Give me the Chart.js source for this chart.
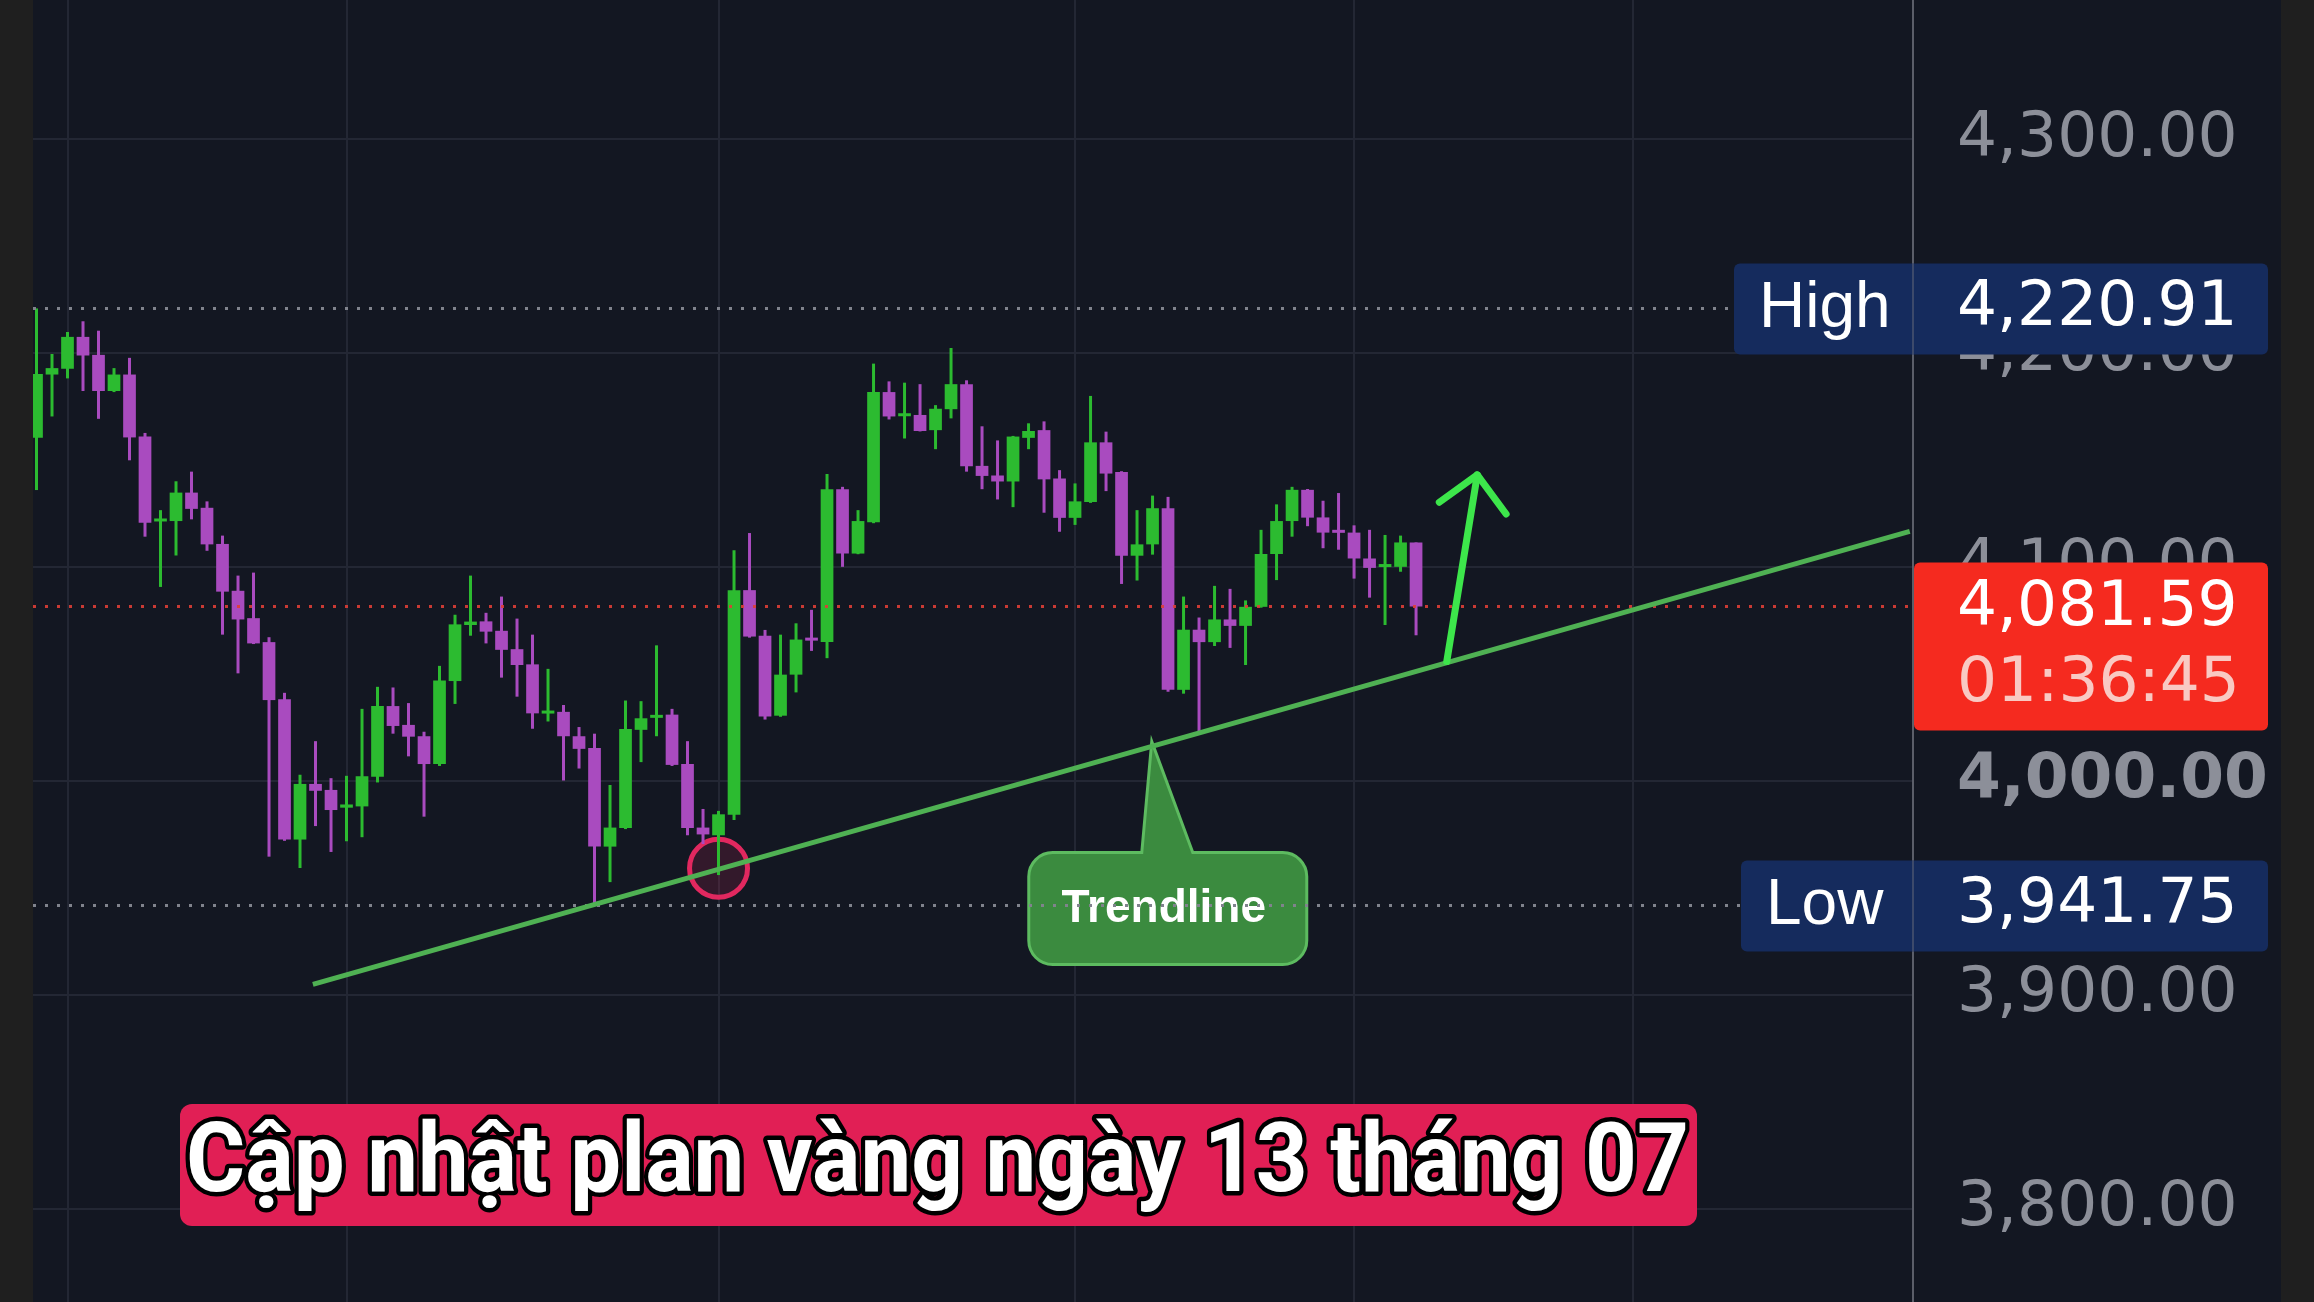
<!DOCTYPE html>
<html>
<head>
<meta charset="utf-8">
<title>Cập nhật plan vàng</title>
<script src="https://cdn.jsdelivr.net/npm/chart.js@4.4.1/dist/chart.umd.min.js"></script>
<style>
    html, body { margin: 0; padding: 0; background: #131722; overflow: hidden; }
    #wrap { width: 2314px; height: 1302px; position: relative; }
</style>
</head>
<body>
<div id="wrap"><canvas id="chart" width="2314" height="1302"></canvas></div>
<script>
// --- candle data, one entry per bar ---
const opens = [4160.4,4190.0,4192.7,4207.6,4199.2,4182.3,4190.0,4161.0,4121.3,4121.5,
    4134.8,4127.7,4110.8,4088.9,4076.1,4064.9,4038.2,3972.6,3998.6,3995.8,
    3987.5,3988.1,4002.0,4035.0,4026.2,4020.9,4007.9,4046.7,4072.9,4074.6,
    4070.2,4061.6,4054.5,4031.5,4032.3,4020.9,4015.4,3969.3,3978.0,4023.9,
    4029.5,4031.0,4007.9,3978.2,3974.6,3984.2,4089.2,4067.9,4030.5,4049.7,
    4066.4,4064.9,4136.4,4106.3,4120.9,4181.8,4170.5,4171.1,4164.0,4173.8,
    4185.5,4147.3,4142.8,4140.0,4160.4,4164.0,4141.4,4123.0,4130.4,4158.3,
    4144.4,4105.3,4110.6,4127.5,4042.6,4070.7,4064.9,4075.5,4072.5,4081.4,
    4106.1,4121.5,4136.1,4123.2,4117.0,4116.1,4104.0,4100.0,4100.1,4111.5];
const highs = [4220.91,4199.6,4209.9,4214.9,4210.5,4193.0,4197.8,4162.7,4126.6,4140.1,
    4144.6,4130.7,4114.7,4096.0,4097.4,4067.2,4041.2,4002.9,4018.6,4001.3,
    4002.4,4033.7,4044.0,4043.7,4036.4,4023.0,4053.8,4077.7,4096.0,4078.6,
    4086.2,4075.9,4068.4,4052.4,4035.5,4025.2,4022.1,3998.1,4037.6,4037.3,
    4063.4,4033.7,4018.6,3986.9,3986.0,4107.9,4115.9,4070.6,4068.4,4073.7,
    4080.0,4143.5,4137.5,4126.6,4195.1,4186.8,4186.2,4185.5,4175.7,4202.4,
    4187.3,4165.8,4159.2,4161.3,4167.2,4168.1,4145.3,4139.1,4180.0,4163.3,
    4144.8,4126.6,4133.4,4132.8,4086.2,4076.4,4091.2,4089.8,4084.4,4117.4,
    4129.3,4137.5,4136.5,4131.0,4134.6,4119.5,4117.4,4115.0,4114.7,4111.5];
const lows = [4136.0,4170.4,4188.2,4182.3,4169.3,4181.8,4149.9,4114.2,4090.7,4105.4,
    4122.3,4107.6,4068.4,4050.3,4064.0,3964.6,3972.0,3959.3,3978.9,3966.8,
    3971.8,3973.7,3999.3,4022.1,4011.5,3983.3,4007.0,4036.0,4067.9,4064.3,
    4048.3,4039.4,4024.4,4027.8,4000.2,4005.8,3941.75,3952.7,3977.5,4008.8,
    4020.9,4007.0,3974.6,3970.5,3956.0,3981.7,4067.0,4028.7,4030.0,4041.4,
    4060.8,4057.4,4100.1,4106.0,4120.5,4169.0,4160.1,4163.4,4155.1,4169.5,
    4144.6,4136.4,4131.6,4128.0,4155.1,4125.4,4116.5,4119.7,4130.0,4135.5,
    4092.1,4093.7,4105.8,4041.7,4040.8,4022.1,4063.1,4062.2,4054.2,4081.0,
    4093.9,4114.2,4119.1,4108.8,4108.1,4094.6,4085.7,4072.9,4097.8,4068.1];
const closes = [4190.3,4193.0,4207.6,4198.9,4182.3,4190.0,4160.6,4120.7,4122.7,4134.8,
    4127.2,4110.6,4088.5,4075.5,4064.3,4037.8,3972.6,3998.6,3995.4,3986.4,
    3989.0,4002.2,4035.0,4025.7,4020.7,4007.9,4047.0,4073.2,4074.5,4069.8,
    4061.3,4054.2,4031.6,4032.5,4020.9,4015.0,3969.3,3978.2,4024.3,4029.3,
    4030.5,4007.5,3978.0,3975.0,3984.4,4089.2,4067.5,4030.1,4049.7,4066.1,
    4065.6,4136.4,4106.3,4121.5,4181.8,4170.4,4171.5,4163.6,4174.0,4185.5,
    4147.1,4142.6,4140.0,4161.0,4163.6,4141.0,4123.0,4130.7,4158.3,4143.7,
    4105.3,4110.6,4127.5,4042.6,4070.7,4064.9,4075.5,4072.5,4081.4,4106.1,
    4121.5,4136.1,4123.1,4116.1,4116.0,4104.0,4099.6,4101.0,4111.5,4081.59];

// axis ticks / ranges
const yTicks = [3800, 3900, 4000, 4100, 4200, 4300];
const xGridIdx = [2, 20, 44, 67, 85, 103];   // vertical grid lines sit on these bars
const xRange = [-0.226, 121.06];
const yRange = [3756.4, 4365.1];

// price markers
const highValue = 4220.91;
const lowValue = 3941.75;
const lastPrice = 4081.59;
const countdown = '01:36:45';

// drawings (bar index, price)
const trendX = [17.83, 120.85];
const trendY = [3904.9, 4116.7];
const arrowShaftX = [90.98, 92.95];
const arrowShaftY = [4055.8, 4143.1];
const arrowHeadX = [90.50, 92.95, 94.81];
const arrowHeadY = [4130.3, 4143.1, 4124.8];
const touchPoint = [44, 3959.2];
const calloutAnchor = [71.95, 4018.4];
const calloutText = 'Trendline';
const titleText = 'Cập nhật plan vàng ngày 13 tháng 07';

const GREEN = '#2cbb30';
const PURPLE = '#a94bbf';
const GRID = '#232734';
const AXIS_TEXT = '#8c8f99';

const fmt = v => v.toLocaleString('en-US', { minimumFractionDigits: 2, maximumFractionDigits: 2 });
const toPts = (xs, ys) => xs.map((x, i) => ({ x: x, y: ys[i] }));

const bodyData = opens.map((o, i) => ({ x: i, y: [o, closes[i]] }));
const wickData = opens.map((o, i) => ({ x: i, y: [lows[i], highs[i]] }));
const barColors = opens.map((o, i) => closes[i] >= o ? GREEN : PURPLE);

function roundRect(ctx, x, y, w, h, r) {
    ctx.beginPath();
    ctx.moveTo(x + r, y);
    ctx.arcTo(x + w, y, x + w, y + h, r);
    ctx.arcTo(x + w, y + h, x, y + h, r);
    ctx.arcTo(x, y + h, x, y, r);
    ctx.arcTo(x, y, x + w, y, r);
    ctx.closePath();
}

// no label padding: the plot runs edge to edge vertically
function noPad(s) {
    s.paddingTop = 0;
    s.paddingBottom = 0;
    s.paddingLeft = 0;
    s.paddingRight = 0;
}

// background + side strips
const backdrop = {
    id: 'backdrop',
    beforeDraw(chart) {
        const ctx = chart.ctx;
        ctx.save();
        ctx.fillStyle = '#131722';
        ctx.fillRect(0, 0, chart.width, chart.height);
        ctx.fillStyle = '#1f1f1f';
        ctx.fillRect(0, 0, 33, chart.height);
        ctx.fillRect(2281, 0, chart.width - 2281, chart.height);
        ctx.restore();
    }
};

// "Trendline" callout, under the lines
const callout = {
    id: 'callout',
    beforeDatasetsDraw(chart) {
        const ctx = chart.ctx;
        const tx = chart.scales.x.getPixelForValue(calloutAnchor[0]);
        const ty = chart.scales.y.getPixelForValue(calloutAnchor[1]);
        const L = tx - 123, T = ty + 111, R = L + 278, B = T + 112, r = 24;
        ctx.save();
        ctx.beginPath();
        ctx.moveTo(L + r, T);
        ctx.lineTo(tx - 10, T);
        ctx.lineTo(tx, ty);
        ctx.lineTo(tx + 41, T);
        ctx.arcTo(R, T, R, B, r);
        ctx.arcTo(R, B, L, B, r);
        ctx.arcTo(L, B, L, T, r);
        ctx.arcTo(L, T, R, T, r);
        ctx.closePath();
        ctx.fillStyle = '#3b8b3f';
        ctx.fill();
        ctx.lineWidth = 3;
        ctx.strokeStyle = '#5dbb60';
        ctx.stroke();
        ctx.fillStyle = '#ffffff';
        ctx.font = 'bold 46px "Liberation Sans", Arial, sans-serif';
        ctx.textAlign = 'center';
        ctx.textBaseline = 'middle';
        ctx.fillText(calloutText, (L + R) / 2 - 4, (T + B) / 2 + 1);
        ctx.restore();
    }
};

// price tags on the axis + title banner
const overlays = {
    id: 'overlays',
    afterDraw(chart) {
        const ctx = chart.ctx;
        const yS = chart.scales.y;
        const axL = chart.chartArea.right;
        const right = 2268;
        const numFont = '63px "DejaVu Sans", sans-serif';
        ctx.save();
        ctx.textBaseline = 'middle';
        ctx.textAlign = 'left';

        const tag = (label, value, boxLeft) => {
            const py = yS.getPixelForValue(value);
            ctx.fillStyle = '#152b5d';
            roundRect(ctx, boxLeft, py - 45, right - boxLeft, 91, 6);
            ctx.fill();
            ctx.strokeStyle = 'rgba(110,113,124,0.45)';
            ctx.lineWidth = 2;
            ctx.beginPath();
            ctx.moveTo(axL, py - 45);
            ctx.lineTo(axL, py + 46);
            ctx.stroke();
            ctx.fillStyle = '#ffffff';
            ctx.font = '64px "Liberation Sans", Arial, sans-serif';
            ctx.fillText(label, boxLeft + 25, py + 1);
            ctx.font = numFont;
            ctx.fillText(fmt(value), axL + 44, py);
        };
        tag('High', highValue, axL - 179);
        tag('Low', lowValue, axL - 172);

        // last price + countdown
        const pc = yS.getPixelForValue(lastPrice);
        ctx.fillStyle = '#f52a1f';
        roundRect(ctx, axL + 1, pc - 44, right - axL - 1, 168, 6);
        ctx.fill();
        ctx.font = numFont;
        ctx.fillStyle = '#ffffff';
        ctx.fillText(fmt(lastPrice), axL + 44, pc + 2);
        ctx.fillStyle = '#f9c9c3';
        ctx.fillText(countdown, axL + 44, pc + 78);

        // title banner
        ctx.fillStyle = '#e11f55';
        roundRect(ctx, 180, 1104, 1517, 122, 12);
        ctx.fill();
        ctx.font = 'bold 96px Roboto, "Liberation Sans", sans-serif';
        ctx.textBaseline = 'alphabetic';
        const w = ctx.measureText(titleText).width;
        ctx.translate(186, 1191);
        ctx.scale(1503 / w, 1);
        ctx.lineJoin = 'round';
        ctx.lineWidth = 9;
        ctx.strokeStyle = '#000000';
        ctx.strokeText(titleText, 0, 0);
        ctx.fillStyle = '#ffffff';
        ctx.fillText(titleText, 0, 0);
        ctx.restore();
    }
};

const dotted = (value, color, order) => ({
    type: 'line',
    data: [{ x: xRange[0], y: value }, { x: xRange[1], y: value }],
    borderColor: color,
    borderWidth: 3,
    borderDash: [3, 9],
    pointRadius: 0,
    order: order
});

new Chart(document.getElementById('chart'), {
    type: 'bar',
    data: {
        datasets: [
            {   // arrow head
                type: 'line',
                data: toPts(arrowHeadX, arrowHeadY),
                borderColor: '#3de64b',
                borderWidth: 7,
                borderCapStyle: 'round',
                borderJoinStyle: 'round',
                pointRadius: 0,
                order: 0
            },
            {   // arrow shaft
                type: 'line',
                data: toPts(arrowShaftX, arrowShaftY),
                borderColor: '#3de64b',
                borderWidth: 7,
                borderCapStyle: 'round',
                pointRadius: 0,
                order: 0
            },
            {   // trendline
                type: 'line',
                data: toPts(trendX, trendY),
                borderColor: '#4fb153',
                borderWidth: 5,
                pointRadius: 0,
                order: 1
            },
            dotted(lastPrice, 'rgba(222,62,54,0.9)', 2),
            dotted(highValue, '#80838d', 2),
            dotted(lowValue, '#80838d', 2),
            {   // candle bodies
                data: bodyData,
                backgroundColor: barColors,
                borderWidth: 0,
                grouped: false,
                categoryPercentage: 1,
                barPercentage: 0.82,
                minBarLength: 3,
                order: 3
            },
            {   // wicks
                data: wickData,
                backgroundColor: barColors,
                borderWidth: 0,
                grouped: false,
                maxBarThickness: 3,
                order: 4
            },
            {   // touch point circle
                type: 'line',
                data: [{ x: touchPoint[0], y: touchPoint[1] }],
                showLine: false,
                pointRadius: 29,
                pointBorderWidth: 5,
                pointBorderColor: '#e1285f',
                pointBackgroundColor: 'rgba(225,40,95,0.16)',
                order: 5
            }
        ]
    },
    options: {
        responsive: false,
        devicePixelRatio: 1,
        animation: false,
        events: [],
        layout: { padding: { left: 33, right: 0, top: 0, bottom: 0 }, autoPadding: false },
        plugins: { legend: { display: false }, tooltip: { enabled: false } },
        scales: {
            x: {
                type: 'linear',
                min: xRange[0],
                max: xRange[1],
                offset: false,
                afterBuildTicks: s => { s.ticks = xGridIdx.map(v => ({ value: v })); },
                afterFit: s => { s.height = 0; noPad(s); },
                grid: { color: GRID, lineWidth: 2, drawTicks: false, offset: false },
                border: { display: false },
                ticks: { display: false }
            },
            y: {
                position: 'right',
                min: yRange[0],
                max: yRange[1],
                afterBuildTicks: s => { s.ticks = yTicks.map(v => ({ value: v })); },
                afterFit: s => { s.width = 401; noPad(s); },
                grid: { color: GRID, lineWidth: 2, drawTicks: false },
                border: { display: true, color: '#5b5e69', width: 2 },
                ticks: {
                    padding: 44,
                    color: AXIS_TEXT,
                    autoSkip: false,
                    font: ctx => ({
                        family: '"DejaVu Sans", sans-serif',
                        size: 63,
                        weight: ctx.tick && ctx.tick.value === 4000 ? 'bold' : 'normal'
                    }),
                    callback: v => fmt(v)
                }
            }
        }
    },
    plugins: [backdrop, callout, overlays]
});
</script>
</body>
</html>
